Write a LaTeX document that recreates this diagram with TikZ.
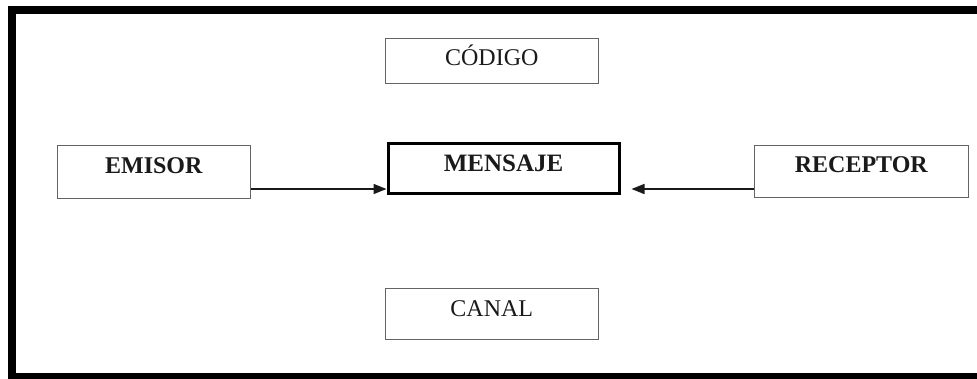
\documentclass[tikz,border=0pt]{standalone}
\usepackage{fontspec}
\setmainfont{Liberation Serif}
\usetikzlibrary{arrows.meta,calc,positioning}
\definecolor{bordegris}{HTML}{646464}
\definecolor{tinta}{HTML}{1A1A1A}

\begin{document}
\begin{tikzpicture}[x=1pt, y=-1pt,
    every node/.style={font=\fontsize{24}{28}\selectfont, text=tinta},
    caja/.style={draw=bordegris, line width=1.6pt, inner sep=0pt, text depth=11pt, anchor=north west},
    flecha/.style={line width=1.5pt, draw=tinta, -{Triangle[length=13pt,width=10pt]}}]
  \useasboundingbox (0,0) rectangle (977,378);
  \clip (0,0) rectangle (977,378);
  \fill[white] (0,0) rectangle (977,378);
  % marco exterior
  \draw[line width=8pt] (11.5,10) rectangle (981,377);

  \node[caja, minimum width=213pt, minimum height=45pt] (codigo) at (384.5,37.5) {CÓDIGO};
  \node[caja, minimum width=193pt, minimum height=53pt, text depth=13pt, font=\fontsize{24}{28}\selectfont\bfseries] (emisor) at (56.5,144.5) {EMISOR};
  \node[draw=black, line width=3pt, inner sep=0pt, text depth=10pt, anchor=north west, minimum width=231pt, minimum height=50pt, font=\fontsize{25}{29}\selectfont\bfseries] (mensaje) at (386.5,141.5) {MENSAJE};
  \node[caja, minimum width=214pt, minimum height=52pt, text depth=13pt, font=\fontsize{24}{28}\selectfont\bfseries] (receptor) at (753.5,144.5) {RECEPTOR};
  \node[caja, minimum width=213pt, minimum height=51pt] (canal) at (384.5,287.5) {CANAL};

  \coordinate (flujo) at (0,189);
  \draw[flecha] (emisor.east |- flujo) -- (mensaje.west |- flujo);
  \draw[flecha, shorten >=11pt] (receptor.west |- flujo) -- (mensaje.east |- flujo);
\end{tikzpicture}
\end{document}
